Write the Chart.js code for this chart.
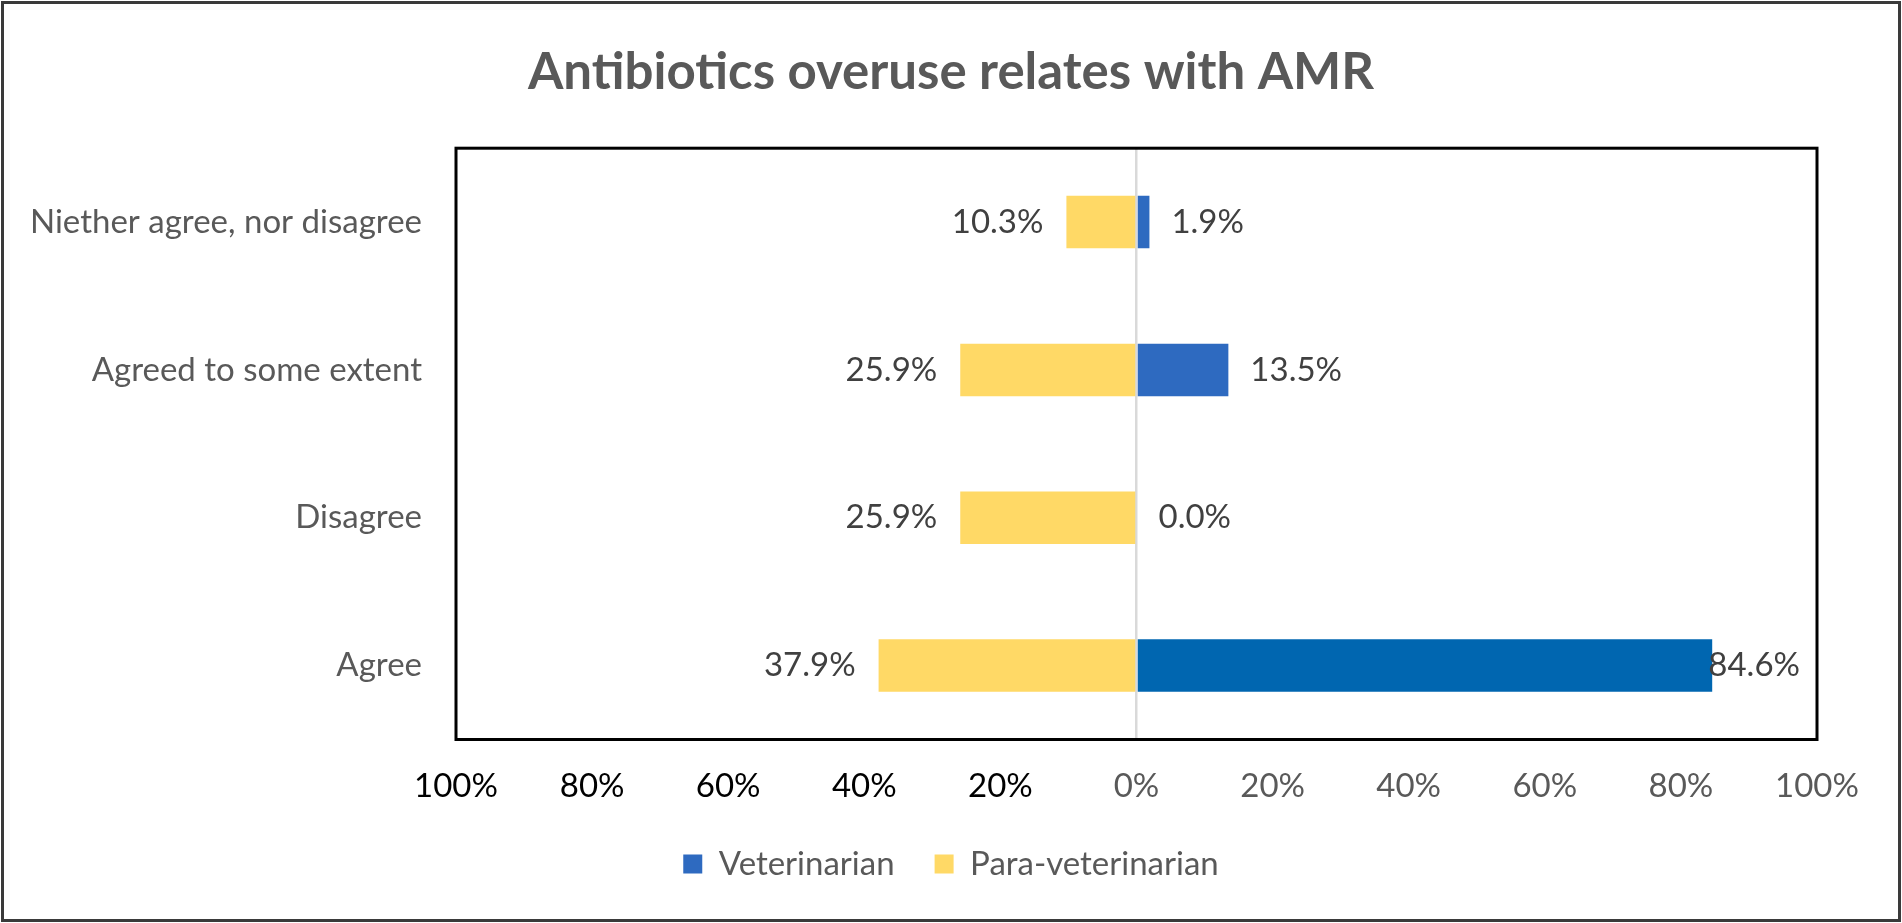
<!DOCTYPE html>
<html>
<head>
<meta charset="utf-8">
<script src="https://cdn.jsdelivr.net/npm/chart.js@4"></script>
<style>
  html, body { margin: 0; padding: 0; background: #fff; }
  #wrap { width: 1902px; height: 923px; }
</style>
</head>
<body>
<div id="wrap"><canvas id="chart"></canvas></div>
<script>
const categories = ['Niether agree, nor disagree', 'Agreed to some extent', 'Disagree', 'Agree'];
const veterinarian = [1.9, 13.5, 0.0, 84.6];
const paraVeterinarian = [10.3, 25.9, 25.9, 37.9];
const tickValues = [-100, -80, -60, -40, -20, 0, 20, 40, 60, 80, 100];

const FONT = 'Lato, Carlito, "Open Sans", sans-serif';
const lightBlue = '#2E6AC0';
const darkBlue = '#0066B0';
const yellow = '#FFD966';

// outer frame + plot border
const framePlugin = {
    id: 'frame',
    beforeDraw(chart) {
        const ctx = chart.ctx;
        ctx.save();
        ctx.fillStyle = '#fff';
        ctx.fillRect(0, 0, chart.width, chart.height);
        ctx.strokeStyle = '#3a3a3a';
        ctx.lineWidth = 3;
        ctx.strokeRect(2.5, 2.5, chart.width - 5, chart.height - 5);
        ctx.restore();
    },
    afterDatasetsDraw(chart) {
        const a = chart.chartArea;
        const ctx = chart.ctx;
        ctx.save();
        ctx.strokeStyle = '#000';
        ctx.lineWidth = 3;
        ctx.strokeRect(a.left, a.top, a.right - a.left, a.bottom - a.top);
        ctx.restore();
    }
};

// percentage labels next to each bar
const valueLabels = {
    id: 'valueLabels',
    afterDraw(chart) {
        const ctx = chart.ctx;
        const area = chart.chartArea;
        ctx.save();
        ctx.font = '33px ' + FONT;
        ctx.fillStyle = '#404040';
        ctx.textBaseline = 'middle';
        chart.data.datasets.forEach((ds, i) => {
            const meta = chart.getDatasetMeta(i);
            meta.data.forEach((bar, j) => {
                const v = Math.abs(ds.data[j]);
                const txt = v.toFixed(1) + '%';
                if (ds.data[j] < 0) {
                    ctx.textAlign = 'right';
                    ctx.fillText(txt, bar.x - 23, bar.y);
                } else {
                    const w = ctx.measureText(txt).width;
                    const x = Math.min(bar.x + 22, area.right - 17 - w);
                    ctx.textAlign = 'left';
                    ctx.fillText(txt, x, bar.y);
                }
            });
        });
        ctx.restore();
    }
};

new Chart(document.getElementById('chart'), {
    type: 'bar',
    data: {
        labels: categories,
        datasets: [
            {
                label: 'Veterinarian',
                data: veterinarian,
                backgroundColor: (c) => (c.type === 'data' && c.dataIndex === 3) ? darkBlue : lightBlue,
                barPercentage: 0.355,
                categoryPercentage: 1
            },
            {
                label: 'Para-veterinarian',
                data: paraVeterinarian.map(v => -v),
                backgroundColor: yellow,
                barPercentage: 0.355,
                categoryPercentage: 1
            }
        ]
    },
    options: {
        indexAxis: 'y',
        responsive: true,
        maintainAspectRatio: false,
        animation: false,
        layout: { padding: { left: 0, right: 0, top: 0, bottom: 32.5 } },
        scales: {
            x: {
                stacked: true,
                min: -100,
                max: 100,
                afterBuildTicks: (s) => { s.ticks = tickValues.map(v => ({ value: v })); },
                afterFit: (s) => { s.height = 68; },
                border: { display: false },
                grid: {
                    drawTicks: false,
                    color: (c) => c.tick && c.tick.value === 0 ? '#D9D9D9' : 'rgba(0,0,0,0)',
                    lineWidth: 2.5
                },
                ticks: {
                    padding: 27,
                    maxRotation: 0,
                    autoSkip: false,
                    font: { family: FONT, size: 33 },
                    color: (c) => c.tick && c.tick.value < 0 ? '#000' : '#595959',
                    callback: (v) => Math.abs(v) + '%'
                }
            },
            y: {
                stacked: true,
                afterFit: (s) => { s.width = 456; },
                border: { display: false },
                grid: { display: false, drawTicks: false },
                ticks: {
                    padding: 34,
                    font: { family: FONT, size: 33 },
                    color: '#595959'
                }
            },
            // empty right-hand margin so title and legend stay centred on the canvas
            yRight: {
                position: 'right',
                afterFit: (s) => { s.width = 85; },
                border: { display: false },
                grid: { display: false, drawTicks: false },
                ticks: { display: false }
            }
        },
        plugins: {
            title: {
                display: true,
                text: 'Antibiotics overuse relates with AMR',
                color: '#595959',
                font: { family: FONT, size: 51, weight: 'bold', lineHeight: 1.2 },
                padding: { top: 42, bottom: 45 }
            },
            legend: {
                position: 'bottom',
                labels: {
                    boxWidth: 19,
                    boxHeight: 19,
                    padding: 40,
                    color: '#595959',
                    font: { family: FONT, size: 33 }
                }
            },
            tooltip: { enabled: false }
        }
    },
    plugins: [framePlugin, valueLabels]
});
</script>
</body>
</html>
